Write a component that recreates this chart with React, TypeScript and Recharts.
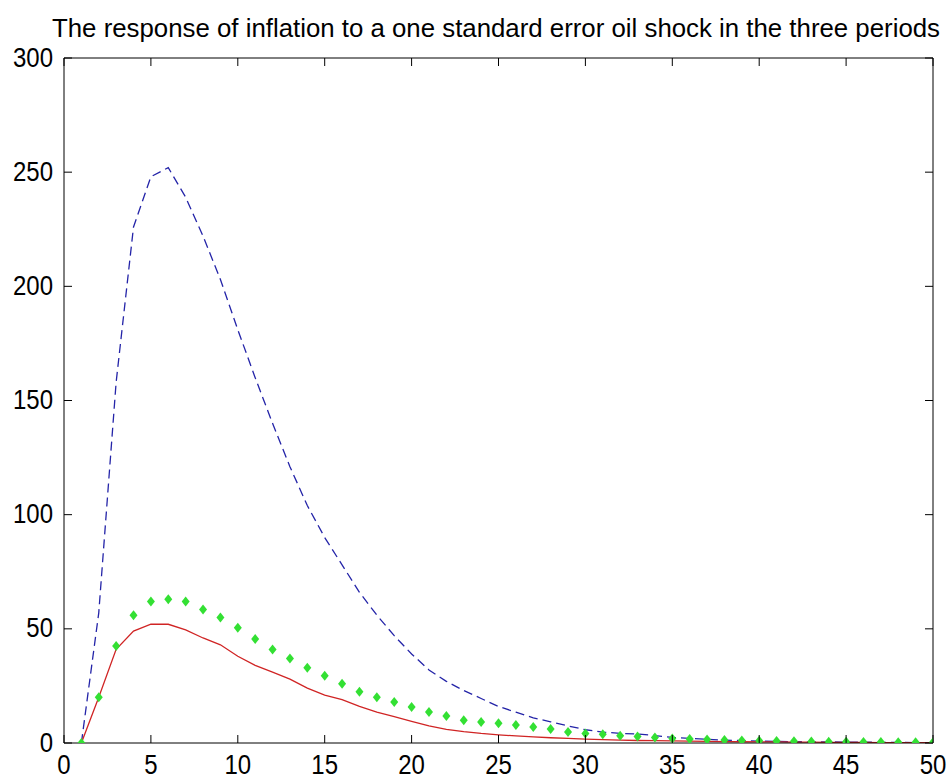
import React from "react";
import { LineChart, Line, XAxis, YAxis } from "recharts";

// Impulse-response horizon (periods after the shock)
const periods = [
  1, 2, 3, 4, 5, 6, 7, 8, 9, 10, 11, 12, 13, 14, 15, 16, 17, 18, 19, 20, 21, 22, 23, 24, 25,
  26, 27, 28, 29, 30, 31, 32, 33, 34, 35, 36, 37, 38, 39, 40, 41, 42, 43, 44, 45, 46, 47, 48, 49, 50,
];

// blue dashed
const periodOne = [
  0, 57, 158, 226, 248, 252, 239, 222, 203, 181, 160, 140, 121, 104, 90, 78, 66, 56, 47, 39,
  32, 27, 23, 19.5, 16, 13.5, 11, 9.3, 7.5, 5.8, 4.8, 4.2, 4.0, 3.2, 2.5, 2.0, 1.6, 1.3, 1.0, 0.8,
  0.7, 0.6, 0.5, 0.45, 0.4, 0.35, 0.3, 0.25, 0.2, 0.2,
];

// red solid
const periodTwo = [
  0, 20, 41, 49, 52, 52, 49.5, 46, 43, 38, 34, 31, 28, 24, 21, 19, 16, 13.5, 11.5, 9.5,
  7.5, 6, 5, 4.2, 3.6, 3.1, 2.7, 2.3, 2.0, 1.7, 1.5, 1.3, 1.1, 1.0, 0.9, 0.8, 0.7, 0.6, 0.55, 0.5,
  0.45, 0.4, 0.35, 0.3, 0.3, 0.25, 0.2, 0.2, 0.15, 0.15,
];

// green diamonds
const periodThree = [
  0, 20, 42.5, 56, 62, 63, 62, 58.5, 55, 50.5, 45.6, 41, 37, 33, 29.4, 26, 22.4, 20, 18, 15.8,
  13.6, 11.8, 10, 9.2, 8.6, 7.9, 7, 6.1, 4.8, 4.2, 3.8, 3.2, 2.8, 2.4, 2.0, 1.7, 1.5, 1.3, 1.1, 1.0,
  0.9, 0.8, 0.7, 0.6, 0.5, 0.45, 0.4, 0.35, 0.3, 0.3,
];

const xTicks = [0, 5, 10, 15, 20, 25, 30, 35, 40, 45, 50];
const yTicks = [0, 50, 100, 150, 200, 250, 300];

const title =
  "The response of inflation to a one standard error oil shock in the three periods";

const data = periods.map((p, i) => ({
  period: p,
  one: periodOne[i],
  two: periodTwo[i],
  three: periodThree[i],
}));

const font = "'Liberation Sans', Arial, sans-serif";
const TICK_LEN = 8;
const X_MARGIN = 14;
const Y_MARGIN = 11;

// matlab-style ticks point into the plot, so draw the tick marks ourselves
const BottomTick = (props: any) => {
  const { x, y, payload } = props;
  const axisY = y - X_MARGIN;
  return (
    <g>
      <line x1={x} y1={axisY} x2={x} y2={axisY - TICK_LEN} stroke="#000" />
      <text
        transform={`translate(${x},${y + 17}) scale(1,1.15)`}
        textAnchor="middle"
        fontSize={24}
        fontFamily={font}
        fill="#000"
      >
        {payload.value}
      </text>
    </g>
  );
};

const LeftTick = (props: any) => {
  const { x, y, payload } = props;
  const axisX = x + Y_MARGIN;
  return (
    <g>
      <line x1={axisX} y1={y} x2={axisX + TICK_LEN} y2={y} stroke="#000" />
      <text
        transform={`translate(${x},${y + 8.5}) scale(1,1.15)`}
        textAnchor="end"
        fontSize={24}
        fontFamily={font}
        fill="#000"
      >
        {payload.value}
      </text>
    </g>
  );
};

const TopTick = (props: any) => {
  const { x, y } = props;
  const axisY = y + X_MARGIN;
  return <line x1={x} y1={axisY} x2={x} y2={axisY + TICK_LEN} stroke="#000" />;
};

const RightTick = (props: any) => {
  const { x, y } = props;
  const axisX = x - Y_MARGIN;
  return <line x1={axisX} y1={y} x2={axisX - TICK_LEN} y2={y} stroke="#000" />;
};

const Diamond = (props: any) => {
  const { cx, cy, index } = props;
  if (cx == null || cy == null) return <g key={`d-${index}`} />;
  return (
    <polygon
      key={`d-${index}`}
      points={`${cx},${cy - 5} ${cx + 4},${cy} ${cx},${cy + 5} ${cx - 4},${cy}`}
      fill="#33e033"
    />
  );
};

const App = () => {
  return (
    <div
      style={{
        position: "absolute",
        left: 0,
        top: 0,
        width: 949,
        height: 779,
        background: "#fff",
      }}
    >
      <svg
        width={949}
        height={50}
        style={{ position: "absolute", left: 0, top: 0 }}
      >
        <text
          x={496}
          y={37}
          textAnchor="middle"
          fontSize={25}
          fontFamily={font}
          textLength={888}
          lengthAdjust="spacingAndGlyphs"
          fill="#000"
        >
          {title}
        </text>
      </svg>
      <LineChart
        width={949}
        height={779}
        data={data}
        margin={{ top: 57, right: 15, bottom: 0, left: 0 }}
      >
        <XAxis
          dataKey="period"
          type="number"
          domain={[0, 50]}
          ticks={xTicks}
          height={36}
          tickSize={0}
          tickMargin={X_MARGIN}
          tickLine={false}
          tick={<BottomTick />}
          stroke="#000"
          allowDataOverflow
        />
        <XAxis
          xAxisId="top"
          dataKey="period"
          orientation="top"
          type="number"
          domain={[0, 50]}
          ticks={xTicks}
          height={1}
          tickSize={0}
          tickMargin={X_MARGIN}
          tickLine={false}
          tick={<TopTick />}
          stroke="#000"
          allowDataOverflow
        />
        <YAxis
          type="number"
          domain={[0, 300]}
          ticks={yTicks}
          width={64}
          tickSize={0}
          tickMargin={Y_MARGIN}
          tickLine={false}
          tick={<LeftTick />}
          stroke="#000"
          allowDataOverflow
        />
        <YAxis
          yAxisId="right"
          orientation="right"
          type="number"
          domain={[0, 300]}
          ticks={yTicks}
          width={1}
          tickSize={0}
          tickMargin={Y_MARGIN}
          tickLine={false}
          tick={<RightTick />}
          stroke="#000"
          allowDataOverflow
        />
        <Line
          dataKey="one"
          stroke="#2424a8"
          strokeWidth={1.3}
          strokeDasharray="9 5"
          dot={false}
          isAnimationActive={false}
        />
        <Line
          dataKey="two"
          stroke="#d02424"
          strokeWidth={1.3}
          dot={false}
          isAnimationActive={false}
        />
        <Line
          dataKey="three"
          xAxisId="top"
          yAxisId="right"
          stroke="none"
          dot={Diamond}
          activeDot={false}
          isAnimationActive={false}
        />
      </LineChart>
    </div>
  );
};

export default App;
